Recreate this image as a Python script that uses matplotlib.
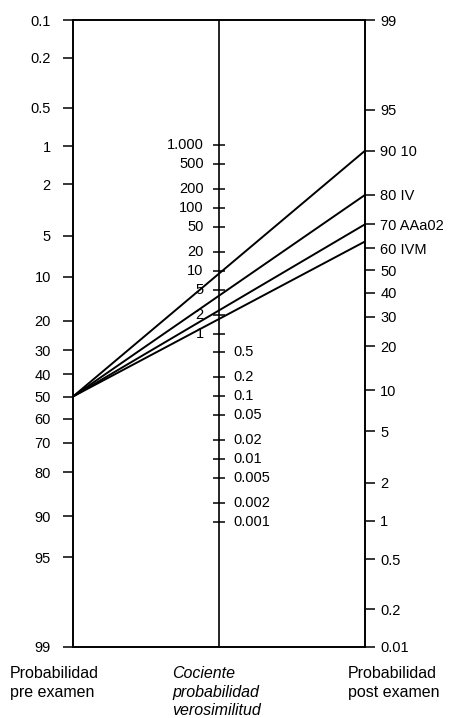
import numpy as np
import matplotlib.pyplot as plt

plt.rcParams['font.family'] = ['Liberation Sans', 'DejaVu Sans']

# pre-test probability scale (%)
preTicks = [0.1, 0.2, 0.5, 1, 2, 5, 10, 20, 30, 40, 50, 60, 70, 80, 90, 95, 99]
preLabels = ['0.1', '0.2', '0.5', '1', '2', '5', '10', '20', '30', '40',
             '50', '60', '70', '80', '90', '95', '99']

# likelihood ratio scale
lrTicks = [1000, 500, 200, 100, 50, 20, 10, 5, 2, 1,
           0.5, 0.2, 0.1, 0.05, 0.02, 0.01, 0.005, 0.002, 0.001]
lrLabels = ['1.000', '500', '200', '100', '50', '20', '10', '5', '2', '1',
            '0.5', '0.2', '0.1', '0.05', '0.02', '0.01', '0.005', '0.002', '0.001']

# post-test probability scale (%)
postTicks = [99, 95, 90, 80, 70, 60, 50, 40, 30, 20, 10, 5, 2, 1, 0.5, 0.2, 0.1]
postLabels = ['99', '95', '90 10', '80 IV', '70 AAa02', '60 IVM', '50', '40',
              '30', '20', '10', '5', '2', '1', '0.5', '0.2', '0.01']

# tests drawn on the nomogram: pre-test 50 %, post-test values
testPre = [50, 50, 50, 50]
testPost = [90, 80, 70, 63]


def logit(p):
    p = np.asarray(p, dtype=float) / 100.0
    return np.log(p / (1 - p))


yTop = float(logit(0.1))
yBot = float(logit(99))
shift = yTop + yBot


def postPos(p):
    return -logit(p) + shift


def lrPos(lr):
    return (shift - np.log(np.asarray(lr, dtype=float))) / 2


W, H = 453, 718
fs = 10.5
fig = plt.figure(figsize=(W / 100, H / 100), dpi=100)
axL, axR, axT, axB = 73, 365, 20, 647
ax = fig.add_axes([axL / W, 1 - axB / H, (axR - axL) / W, (axB - axT) / H])
ax.set_xlim(0, 1)
ax.set_ylim(yBot, yTop)
for s in ax.spines.values():
    s.set_linewidth(1.2)
ax.set_xticks([])
ax.set_yticks(logit(preTicks))
ax.set_yticklabels(preLabels)
ax.tick_params(axis='y', direction='out', length=7, width=1.1, pad=9, labelsize=fs)

ax2 = ax.twinx()
ax2.set_ylim(yBot, yTop)
ax2.set_yticks(postPos(postTicks))
ax2.set_yticklabels(postLabels)
ax2.tick_params(axis='y', direction='out', length=7, width=1.1, pad=4, labelsize=fs)
for s in ax2.spines.values():
    s.set_linewidth(1.2)

# middle axis (likelihood ratio)
ax.axvline(0.5, color='black', lw=1.2)
lrY = lrPos(lrTicks)
ax.plot(np.full(len(lrY), 0.5), lrY, ls='none', marker='_', ms=8, mew=1.1, color='black')
for v, y, lab in zip(lrTicks, lrY, lrLabels):
    if v >= 1:
        ax.annotate(lab, (0.5, y), xytext=(-11, 0), textcoords='offset points',
                    ha='right', va='center', fontsize=fs)
    else:
        ax.annotate(lab, (0.5, y), xytext=(10, 0), textcoords='offset points',
                    ha='left', va='center', fontsize=fs)

# test lines
for pre, post in zip(testPre, testPost):
    ax.plot([0, 1], [logit(pre), postPos(post)], color='black', lw=1.4)

# captions
fig.text(10 / W, 1 - 666 / H, 'Probabilidad\npre examen', ha='left', va='top',
         fontsize=11.5, linespacing=1.35)
fig.text(172 / W, 1 - 666 / H, 'Cociente\nprobabilidad\nverosimilitud', ha='left',
         va='top', fontsize=11.5, style='italic', linespacing=1.3)
fig.text(348 / W, 1 - 666 / H, 'Probabilidad\npost examen', ha='left', va='top',
         fontsize=11.5, linespacing=1.35)

fig.savefig('out.png', dpi=100)
